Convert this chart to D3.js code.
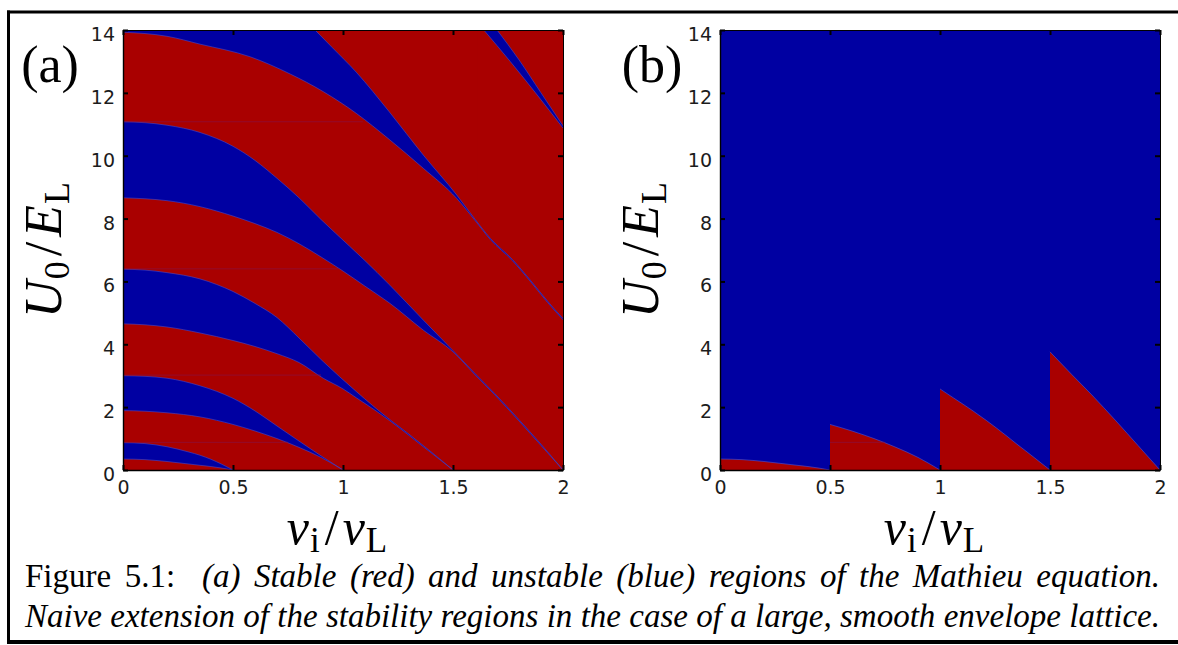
<!DOCTYPE html>
<html><head><meta charset="utf-8">
<script src="https://cdn.jsdelivr.net/npm/d3@7"></script>
<style>
html,body{margin:0;padding:0;background:#fff;}
svg{display:block;}
</style></head><body>
<svg id="chart" width="1178" height="645"></svg>
<script>
// ---------------- data ----------------
const xTicks = [0, 0.5, 1, 1.5, 2];
const xTickLabels = ["0", "0.5", "1", "1.5", "2"];
const yTicks = [0, 2, 4, 6, 8, 10, 12, 14];
const yTickLabels = ["0", "2", "4", "6", "8", "10", "12", "14"];

// boundaries of the unstable (blue) tongues in panel (a): [v_i/v_L, U0/E_L]
const tongue1Upper = [[0,0.87],[0.1,0.84],[0.2,0.74],[0.3,0.57],[0.35,0.47],[0.4,0.34],[0.45,0.18],[0.5,0]];
const tongue1Lower = [[0,0.35],[0.1,0.33],[0.2,0.27],[0.3,0.19],[0.35,0.15],[0.4,0.11],[0.45,0.06],[0.5,0]];
const tongue2Upper = [[0,3.0],[0.1,2.98],[0.2,2.92],[0.35,2.68],[0.5,2.28],[0.6,1.88],[0.7,1.4],[0.8,0.92],[0.9,0.45],[1.0,0]];
const tongue2Lower = [[0,1.89],[0.1,1.87],[0.2,1.82],[0.35,1.69],[0.5,1.45],[0.6,1.24],[0.7,1.0],[0.8,0.72],[0.9,0.4],[1.0,0]];
const tongue3Upper = [[0,6.39],[0.1,6.36],[0.2,6.28],[0.35,6.08],[0.5,5.68],[0.6,5.3],[0.7,4.85],[0.8,4.2],[0.91,3.45],[1.06,2.5],[1.21,1.62],[1.3,1.14],[1.35,0.86],[1.4,0.58],[1.5,0]];
const tongue3Lower = [[0,4.65],[0.1,4.62],[0.2,4.55],[0.35,4.36],[0.5,4.12],[0.6,3.93],[0.7,3.7],[0.8,3.42],[0.91,2.92],[1.0,2.58],[1.06,2.3],[1.15,1.88],[1.21,1.58],[1.3,1.1],[1.35,0.82],[1.4,0.55],[1.5,0]];
const tongue4Upper = [[0,11.08],[0.1,11.05],[0.2,10.97],[0.35,10.74],[0.5,10.3],[0.6,9.85],[0.7,9.28],[0.8,8.66],[0.9,7.97],[1.03,7.12],[1.1,6.66],[1.21,5.9],[1.365,4.77],[1.5,3.8],[1.6,3.07],[1.69,2.43],[1.8,1.6],[1.9,0.82],[2.0,0]];
const tongue4Lower = [[0,8.66],[0.1,8.63],[0.2,8.57],[0.35,8.38],[0.5,8.08],[0.6,7.84],[0.7,7.56],[0.8,7.2],[0.9,6.78],[1.0,6.33],[1.1,5.85],[1.21,5.32],[1.365,4.45],[1.5,3.76],[1.6,3.03],[1.69,2.39],[1.8,1.56],[1.9,0.78],[2.0,0]];
const tongue5Upper = [[0.873,14],[0.95,13.45],[1.06,12.66],[1.21,11.4],[1.365,10.02],[1.517,8.75],[1.6,7.98],[1.67,7.37],[1.77,6.7],[1.854,6.02],[1.93,5.37],[2.0,4.82]];
const tongue5Lower = [[0,13.93],[0.2,13.8],[0.35,13.55],[0.577,13.15],[0.76,12.6],[0.91,12.04],[1.06,11.35],[1.21,10.52],[1.365,9.6],[1.517,8.64],[1.6,7.94],[1.67,7.33],[1.77,6.66],[1.854,5.98],[1.93,5.33],[2.0,4.78]];
const tongue6Upper = [[1.70,14],[1.80,13.05],[1.90,12.0],[2.0,10.95]];
const tongue6Lower = [[1.64,14],[1.76,13.0],[1.875,12.0],[2.0,10.88]];

// faint horizontal artefact lines in the stable regions
const faintLevels = [0.88, 3.02, 6.4, 11.08];
const faintEnds = [0.75, 0.9, 0.98, 1.09];

// panel (b): stable pockets, one per half-unit interval
const pocketRanges = [[0, 0.5], [0.5, 1], [1, 1.5], [1.5, 2]];

const captionLine1 = [
  {t: "Figure", it: false}, {t: "5.1:", it: false, gapAfter: 2},
  {t: "(a)", it: true}, {t: "Stable", it: true}, {t: "(red)", it: true}, {t: "and", it: true},
  {t: "unstable", it: true}, {t: "(blue)", it: true}, {t: "regions", it: true}, {t: "of", it: true},
  {t: "the", it: true}, {t: "Mathieu", it: true}, {t: "equation.", it: true}
];
const captionLine2 = "Naive extension of the stability regions in the case of a large, smooth envelope lattice."
  .split(" ").map(t => ({t, it: true}));

// ---------------- drawing ----------------
const svg = d3.select("#chart");
const RED = "#a90000", BLUE = "#0000a2", EDGE = "#4646c6";
const tongues = [[tongue1Upper, tongue1Lower],[tongue2Upper, tongue2Lower],[tongue3Upper, tongue3Lower],
                 [tongue4Upper, tongue4Lower],[tongue5Upper, tongue5Lower],[tongue6Upper, tongue6Lower]];

svg.append("rect").attr("width", 1178).attr("height", 645).attr("fill", "#fff");

const panels = [
  {id: "a", left: 123, right: 563, top: 30, bottom: 470, tag: "(a)", tagX: 50, ylabX: 61},
  {id: "b", left: 720, right: 1160, top: 30, bottom: 470, tag: "(b)", tagX: 652, ylabX: 658}
];

const defs = svg.append("defs");
const SERIF = "'Liberation Serif', 'Times New Roman', serif";

panels.forEach(p => {
  const xs = d3.scaleLinear().domain([0, 2]).range([p.left, p.right]);
  const ys = d3.scaleLinear().domain([0, 14]).range([p.bottom, p.top]);
  const line = d3.line().x(d => xs(d[0])).y(d => ys(d[1])).curve(d3.curveMonotoneX);
  const tail = pts => line(pts).slice(1);
  const clipId = "clip-" + p.id;
  defs.append("clipPath").attr("id", clipId).append("rect")
    .attr("x", p.left).attr("y", p.top).attr("width", p.right - p.left).attr("height", p.bottom - p.top);
  const plot = svg.append("g").attr("clip-path", `url(#${clipId})`);

  if (p.id === "a") {
    plot.append("rect").attr("x", p.left).attr("y", p.top)
      .attr("width", p.right - p.left).attr("height", p.bottom - p.top).attr("fill", RED);
    // paint from the highest tongue down: blue under upper boundary, red under lower boundary
    for (let i = tongues.length - 1; i >= 0; i--) {
      const [up, lo] = tongues[i];
      let d = `M${xs(lo[0][0])},${ys(0)}`;
      if (up[0][0] > lo[0][0]) d += `V${ys(14)}H${xs(up[0][0])}`;
      d += "L" + tail(up) + `V${ys(0)}Z`;
      plot.append("path").attr("d", d).attr("fill", BLUE);
      const x0 = xs(lo[0][0]) - 6;
      plot.append("path")
        .attr("d", `M${x0},${ys(0)}V${ys(lo[0][1])}L` + tail(lo) + `V${ys(0)}Z`)
        .attr("fill", RED);
    }
    tongues.forEach(([up, lo]) => {
      [up, lo].forEach(c => plot.append("path").attr("d", line(c)).attr("fill", "none")
        .attr("stroke", EDGE).attr("stroke-width", 0.6));
    });
    faintLevels.forEach((lv, i) => {
      plot.append("line").attr("x1", xs(0)).attr("x2", xs(faintEnds[i]))
        .attr("y1", ys(lv)).attr("y2", ys(lv))
        .attr("stroke", "#8a1040").attr("stroke-width", 1).attr("opacity", 0.7);
    });
  } else {
    plot.append("rect").attr("x", p.left).attr("y", p.top)
      .attr("width", p.right - p.left).attr("height", p.bottom - p.top).attr("fill", BLUE);
    pocketRanges.forEach(([lo, hi], i) => {
      const pts = tongues[i][1].filter(d => d[0] >= lo - 1e-9 && d[0] <= hi + 1e-9);
      plot.append("path")
        .attr("d", `M${xs(lo)},${ys(0)}L` + tail(pts) + `L${xs(hi)},${ys(0)}Z`)
        .attr("fill", RED);
      plot.append("path").attr("d", line(pts)).attr("fill", "none")
        .attr("stroke", EDGE).attr("stroke-width", 0.7);
    });
    plot.append("line").attr("x1", xs(0.5)).attr("x2", xs(faintEnds[0]))
      .attr("y1", ys(faintLevels[0])).attr("y2", ys(faintLevels[0]))
      .attr("stroke", "#8a1040").attr("stroke-width", 1).attr("opacity", 0.7);
  }

  // axes (MATLAB style, inward ticks on every side)
  const styleAxis = sel => {
    sel.select(".domain").attr("stroke", "#000").attr("stroke-width", 1.4);
    sel.selectAll(".tick line").attr("stroke", "#000").attr("stroke-width", 2);
    sel.selectAll(".tick text").style("font-family", "'DejaVu Sans', sans-serif")
      .style("font-size", "19px").attr("fill", "#1c1c1c");
  };
  const gl = svg.append("g").attr("transform", `translate(${p.left},0)`)
    .call(d3.axisLeft(ys).tickValues(yTicks).tickFormat((d, i) => yTickLabels[i])
      .tickSizeInner(-5).tickSizeOuter(0).tickPadding(8));
  styleAxis(gl);
  gl.selectAll(".tick text").attr("dy", "0.55em");
  const gb = svg.append("g").attr("transform", `translate(0,${p.bottom})`)
    .call(d3.axisBottom(xs).tickValues(xTicks).tickFormat((d, i) => xTickLabels[i])
      .tickSizeInner(-5).tickSizeOuter(0).tickPadding(11));
  styleAxis(gb);
  const gt = svg.append("g").attr("transform", `translate(0,${p.top})`)
    .call(d3.axisTop(xs).tickValues(xTicks).tickFormat("").tickSizeInner(-5).tickSizeOuter(0));
  styleAxis(gt);
  gt.select(".domain").attr("stroke-width", 1);
  const gr = svg.append("g").attr("transform", `translate(${p.right},0)`)
    .call(d3.axisRight(ys).tickValues(yTicks).tickFormat("").tickSizeInner(-5).tickSizeOuter(0));
  styleAxis(gr);
  gr.select(".domain").attr("stroke-width", 1);

  // panel tag
  svg.append("text").attr("x", p.tagX).attr("y", 82).attr("text-anchor", "middle")
    .style("font-family", SERIF).style("font-size", "52px").text(p.tag);

  // y label
  const yl = svg.append("text")
    .attr("transform", `translate(${p.ylabX},${(p.top + p.bottom) / 2}) rotate(-90)`)
    .attr("text-anchor", "middle")
    .style("font-family", SERIF).style("font-size", "52px");
  yl.append("tspan").style("font-style", "italic").text("U");
  yl.append("tspan").style("font-size", "36px").attr("dy", 8).attr("dx", 1).text("0");
  yl.append("tspan").attr("dy", -8).attr("dx", 5).text("/");
  yl.append("tspan").style("font-style", "italic").attr("dx", 5).text("E");
  yl.append("tspan").style("font-size", "36px").attr("dy", 8).attr("dx", 1).text("L");

  // x label
  const xl = svg.append("text")
    .attr("x", (p.left + p.right) / 2 - 6).attr("y", 544).attr("text-anchor", "middle")
    .style("font-family", SERIF).style("font-size", "50px");
  xl.append("tspan").style("font-style", "italic").text("v");
  xl.append("tspan").style("font-size", "35px").attr("dy", 8).attr("dx", 1).text("i");
  xl.append("tspan").attr("dy", -8).attr("dx", 5).text("/");
  xl.append("tspan").style("font-style", "italic").attr("dx", 4).text("v");
  xl.append("tspan").style("font-size", "35px").attr("dy", 8).attr("dx", 1).text("L");
});

// caption, justified between x0 and x1
function justify(words, x0, x1, baseline) {
  const g = svg.append("g").style("font-family", SERIF).style("font-size", "33px");
  const nodes = words.map(w => g.append("text").attr("y", baseline)
    .style("font-style", w.it ? "italic" : "normal").attr("fill", "#000").text(w.t));
  const widths = nodes.map(n => n.node().getComputedTextLength());
  const weights = words.slice(0, -1).map(w => w.gapAfter || 1);
  const gap = (x1 - x0 - d3.sum(widths)) / d3.sum(weights);
  let x = x0;
  nodes.forEach((n, i) => { n.attr("x", x); x += widths[i] + (i < weights.length ? gap * weights[i] : 0); });
}
justify(captionLine1, 25, 1160, 587);
justify(captionLine2, 25, 1160, 627);

// outer frame (left, top, bottom rules)
svg.append("rect").attr("x", 7).attr("y", 10.5).attr("width", 1171).attr("height", 3).attr("fill", "#000");
svg.append("rect").attr("x", 7).attr("y", 10.5).attr("width", 3).attr("height", 633).attr("fill", "#000");
svg.append("rect").attr("x", 7).attr("y", 640).attr("width", 1171).attr("height", 4).attr("fill", "#000");
</script></body></html>
